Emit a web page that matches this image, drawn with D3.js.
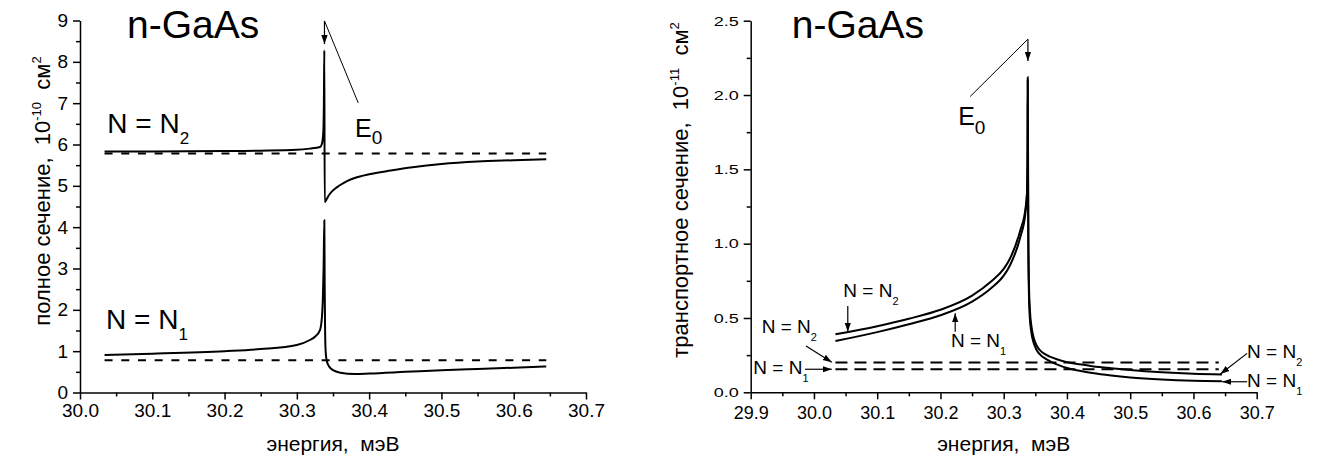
<!DOCTYPE html>
<html>
<head>
<meta charset="utf-8">
<script src="https://cdn.jsdelivr.net/npm/d3@7"></script>
<style>
	body { margin:0; background:#fff; }
	svg text { font-family:"Liberation Sans", Arial, sans-serif; fill:#000; white-space:pre; }
	.axis path, .axis line { stroke:#000; stroke-width:1.5; }
</style>
</head>
<body>
<div id="chart"></div>
<script>
// ---- data ----
// left panel: total cross section, 10^-10 cm^2
var totalN2 = [[30.034,5.83],[30.10,5.83],[30.20,5.84],[30.25,5.85],[30.30,5.87],[30.318,5.90],[30.332,5.94],
	[30.3347,6.02],[30.3366,6.3],[30.3374,7.0],[30.338,8.28],[30.3385,4.61],[30.340,4.64],[30.3425,4.72],
	[30.345,4.79],[30.35,4.89],[30.36,5.02],[30.37,5.12],[30.38,5.19],[30.40,5.28],[30.43,5.37],[30.46,5.45],
	[30.50,5.53],[30.55,5.59],[30.60,5.62],[30.645,5.645]];
var totalN1 = [[30.034,0.91],[30.10,0.94],[30.20,1.00],[30.25,1.05],[30.30,1.15],[30.318,1.27],[30.325,1.35],
	[30.332,1.51],[30.3347,1.83],[30.336,2.3],[30.337,3.0],[30.338,4.17],[30.3385,2.6],[30.339,1.6],
	[30.3398,1.0],[30.341,0.80],[30.343,0.68],[30.345,0.62],[30.35,0.54],[30.36,0.48],[30.38,0.45],
	[30.40,0.46],[30.45,0.50],[30.50,0.54],[30.55,0.57],[30.60,0.60],[30.645,0.63]];
var totalBase = [5.78, 0.78];   // dashed levels N2, N1
var totalRange = [30.034, 30.645];

// right panel: transport cross section, 10^-11 cm^2
var transN2 = [[30.034,0.39],[30.10,0.445],[30.15,0.495],[30.20,0.555],[30.25,0.65],[30.28,0.745],[30.30,0.83],
	[30.31,0.90],[30.3263,1.09],[30.3342,1.23],[30.3368,1.34],[30.3377,1.62],[30.338,2.12],
	[30.3385,1.6],[30.339,1.05],[30.340,0.72],[30.3415,0.55],[30.344,0.44],[30.3472,0.37],[30.352,0.315],
	[30.358,0.28],[30.366,0.255],[30.374,0.238],[30.384,0.222],[30.40,0.203],[30.42,0.188],[30.44,0.176],
	[30.47,0.162],[30.50,0.150],[30.55,0.135],[30.60,0.125],[30.645,0.12]];
var transN1 = [[30.034,0.345],[30.10,0.405],[30.15,0.458],[30.20,0.518],[30.25,0.61],[30.28,0.70],[30.30,0.785],
	[30.31,0.855],[30.3263,1.045],[30.3342,1.20],[30.3368,1.33],[30.3377,1.6],[30.338,2.1],
	[30.3384,1.5],[30.3389,1.0],[30.3397,0.70],[30.341,0.52],[30.3435,0.41],[30.3472,0.335],[30.352,0.285],
	[30.358,0.252],[30.366,0.226],[30.374,0.207],[30.384,0.188],[30.40,0.163],[30.42,0.145],[30.44,0.130],
	[30.47,0.113],[30.50,0.100],[30.55,0.086],[30.60,0.078],[30.645,0.075]];
var transBase = [0.20, 0.155];
var transRange = [30.034, 30.64];

var leftXTicks = [30.0,30.1,30.2,30.3,30.4,30.5,30.6,30.7],
	leftYTicks = [0,1,2,3,4,5,6,7,8,9],
	rightXTicks = [29.9,30.0,30.1,30.2,30.3,30.4,30.5,30.6,30.7],
	rightYTicks = [0,0.5,1.0,1.5,2.0,2.5];

// annotation labels: [x, y, main text, subscript]
var leftLabels = [[30.0378,6.267,'N = N','2'],[30.036,1.528,'N = N','1']];
var rightLabels = [[30.0465,0.643,'N = N','2'],[30.2165,0.307,'N = N','1'],[29.9174,0.397,'N = N','2'],
	[29.9041,0.123,'N = N','1'],[30.6848,0.229,'N = N','2'],[30.6848,0.038,'N = N','1']];
// arrows: [x1, y1, x2, y2]
var rightArrows = [[30.0535,0.58,30.0535,0.408],[30.2233,0.408,30.2233,0.532],[29.9875,0.312,30.0282,0.202],
	[29.9859,0.155,30.0282,0.155],[30.6848,0.262,30.6426,0.123],[30.6848,0.071,30.6453,0.071],
	[30.3383,2.376,30.3383,2.229]];
var leftArrows = [[30.3382,8.99,30.3382,8.43]];

var svg = d3.select('#chart').append('svg')
	.attr('width',1317)
	.attr('height',461);

var defs = svg.append('defs');
defs.append('marker')
	.attr('id','head')
	.attr('viewBox','0 0 10 10')
	.attr('refX',10).attr('refY',5)
	.attr('markerWidth',9).attr('markerHeight',9)
	.attr('markerUnits','userSpaceOnUse')
	.attr('orient','auto')
	.append('path')
	.attr('d','M0,1.5 L10,5 L0,8.5 Z')
	.attr('fill','#000');

// ---- panels ----
var left = {
	x: d3.scaleLinear().domain([30.0,30.7]).range([80,586]),
	y: d3.scaleLinear().domain([0,9]).range([392.5,20.5])
};
var right = {
	x: d3.scaleLinear().domain([29.9,30.7]).range([750.7,1256.7]),
	y: d3.scaleLinear().domain([0,2.5]).range([392.3,20.7])
};

function drawAxes(p, xt, yt, xminor, yminor, fmtX, fmtY, pad) {
	var gx = svg.append('g').attr('class','axis')
		.attr('transform',`translate(0,${p.y.range()[0]})`);
	gx.call(d3.axisBottom(p.x).tickValues(xt).tickSize(7).tickPadding(pad[0]).tickFormat(fmtX).tickSizeOuter(0));
	svg.append('g').attr('class','axis')
		.attr('transform',`translate(0,${p.y.range()[0]})`)
		.call(d3.axisBottom(p.x).tickValues(xminor).tickSize(4).tickFormat('').tickSizeOuter(0))
		.select('.domain').remove();
	var gy = svg.append('g').attr('class','axis')
		.attr('transform',`translate(${p.x.range()[0]},0)`);
	gy.call(d3.axisLeft(p.y).tickValues(yt).tickSize(7).tickPadding(pad[1]).tickFormat(fmtY).tickSizeOuter(0));
	svg.append('g').attr('class','axis')
		.attr('transform',`translate(${p.x.range()[0]},0)`)
		.call(d3.axisLeft(p.y).tickValues(yminor).tickSize(4).tickFormat('').tickSizeOuter(0))
		.select('.domain').remove();
	return [gx, gy];
}

var mid = a => a.slice(0,-1).map((v,i) => +((v + a[i+1]) / 2).toFixed(3));

var la = drawAxes(left, leftXTicks, leftYTicks, mid(leftXTicks), mid(leftYTicks), d3.format('.1f'), d3.format('d'), [4,5]);
la[0].selectAll('text').style('font-size','19px');
la[1].selectAll('text').style('font-size','19px');

var ra = drawAxes(right, rightXTicks, rightYTicks, mid(rightXTicks), mid(rightYTicks), d3.format('.1f'), d3.format('.1f'), [7,5]);
ra[0].selectAll('text').style('font-size','18px');
ra[1].selectAll('text').style('font-size','18px').attr('transform','scale(1,0.75)');

// ---- curves ----
function drawCurve(p, data, dash, w) {
	var line = d3.line()
		.x(d => p.x(d[0]))
		.y(d => p.y(d[1]))
		.curve(d3.curveMonotoneX);
	svg.append('path')
		.datum(data)
		.attr('d', line)
		.attr('fill','none')
		.attr('stroke','#000')
		.attr('stroke-width', w)
		.attr('stroke-dasharray', dash);
}

totalBase.forEach(v => drawCurve(left, totalRange.map(x => [x, v]), '8,8.7', 2));
drawCurve(left, totalN2, null, 2);
drawCurve(left, totalN1, null, 2);

transBase.forEach(v => drawCurve(right, transRange.map(x => [x, v]), '12,7', 2));
drawCurve(right, transN2, null, 2);
drawCurve(right, transN1, null, 2);

// ---- annotations ----
function arrows(p, list) {
	svg.append('g').selectAll('line')
		.data(list)
		.enter()
		.append('line')
		.attr('x1', d => p.x(d[0])).attr('y1', d => p.y(d[1]))
		.attr('x2', d => p.x(d[2])).attr('y2', d => p.y(d[3]))
		.attr('stroke','#000')
		.attr('stroke-width',1.2)
		.attr('marker-end','url(#head)');
}
arrows(left, leftArrows);
arrows(right, rightArrows);

// thin leader lines from the E0 arrows to the E0 labels
svg.append('line')
	.attr('x1', left.x(30.3382)).attr('y1', left.y(8.99))
	.attr('x2', left.x(30.3849)).attr('y2', left.y(7.007))
	.attr('stroke','#000').attr('stroke-width',1);
svg.append('line')
	.attr('x1', right.x(30.3383)).attr('y1', right.y(2.376))
	.attr('x2', right.x(30.247)).attr('y2', right.y(1.99))
	.attr('stroke','#000').attr('stroke-width',1);

function subLabel(p, d, size, subSize, dy) {
	var t = svg.append('text')
		.attr('x', p.x(d[0]))
		.attr('y', p.y(d[1]))
		.style('font-size', size + 'px');
	t.append('tspan').text(d[2]);
	t.append('tspan').attr('dy', dy).style('font-size', subSize + 'px').text(d[3]);
}
leftLabels.forEach(d => subLabel(left, d, 28, 17, 11));
rightLabels.forEach(d => subLabel(right, d, 19, 11, 8));
subLabel(left, [30.3804, 6.185, 'E', '0'], 25, 19, 7);
subLabel(right, [30.228, 1.80, 'E', '0'], 25, 19, 9);

// titles
svg.append('text').attr('x', left.x(30.065)).attr('y', left.y(8.58))
	.style('font-size','39px').text('n-GaAs');
svg.append('text').attr('x', right.x(29.965)).attr('y', right.y(2.386))
	.style('font-size','39px').text('n-GaAs');

// axis titles
function xTitle(p) {
	var r = p.x.range();
	svg.append('text')
		.attr('x', (r[0] + r[1]) / 2)
		.attr('y', 451)
		.attr('text-anchor','middle')
		.style('font-size','21px')
		.text('энергия,  мэВ');
}
xTitle(left);
xTitle(right);

function yTitle(x, cy, name, exp) {
	var t = svg.append('text')
		.attr('transform', `translate(${x},${cy})rotate(-90)`)
		.attr('text-anchor','middle')
		.style('font-size','22px');
	t.append('tspan').text(name + ',  10');
	t.append('tspan').attr('dy',-9).style('font-size','13px').text(exp);
	t.append('tspan').attr('dy',9).text('  см');
	t.append('tspan').attr('dy',-9).style('font-size','13px').text('2');
}
yTitle(50, 191, 'полное сечение', '-10');
yTitle(688, 190, 'транспортное сечение', '-11');
</script>
</body>
</html>
